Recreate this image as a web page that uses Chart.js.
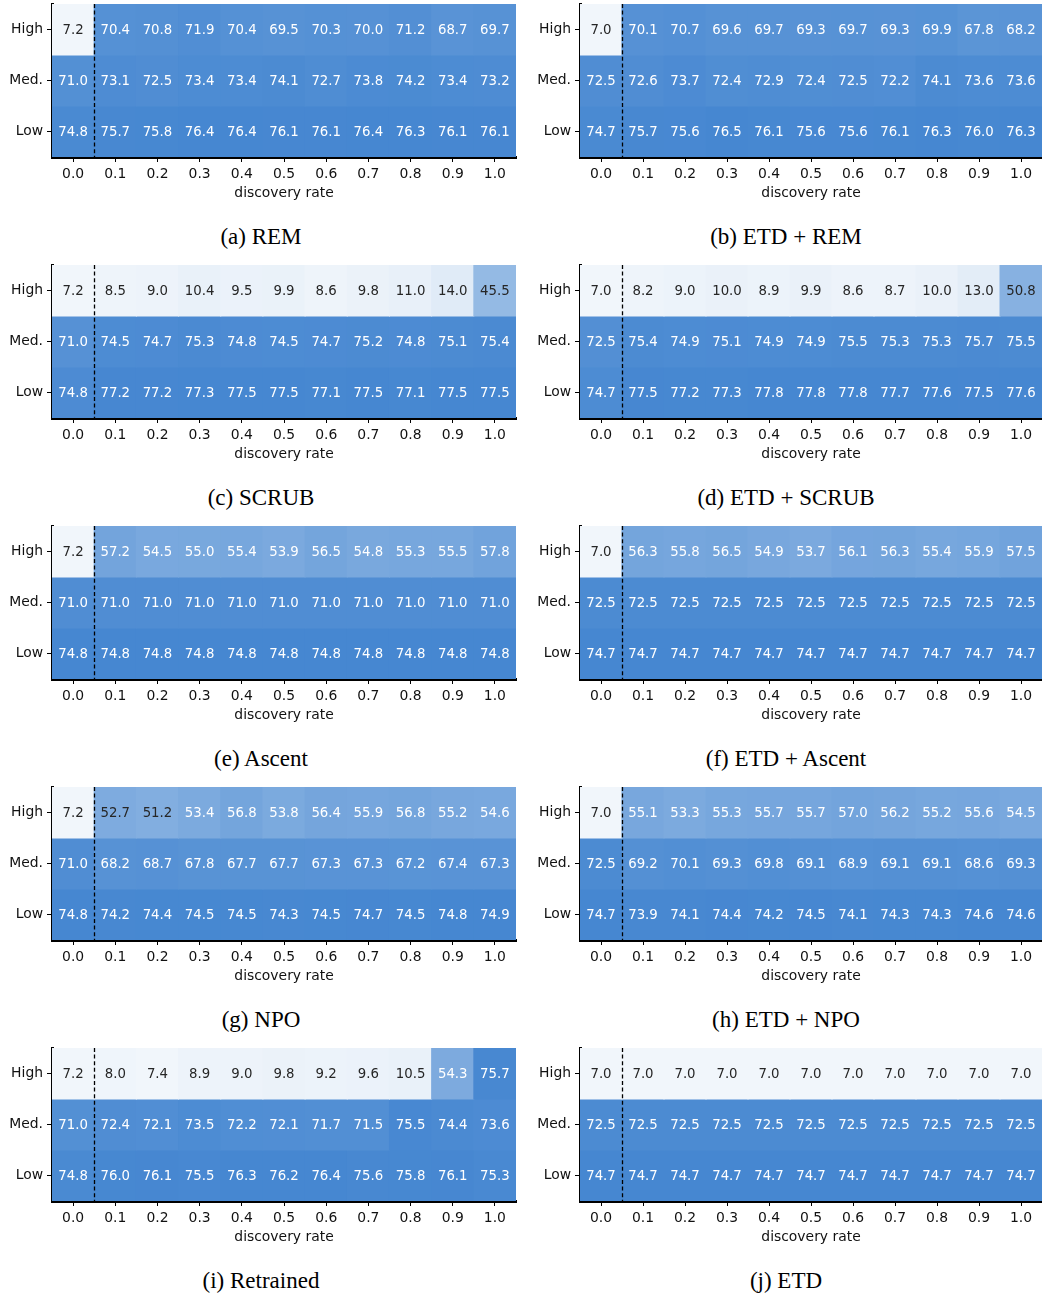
<!DOCTYPE html>
<html>
<head>
<meta charset="utf-8">
<script src="https://cdn.jsdelivr.net/npm/chart.js@4.4.1/dist/chart.umd.min.js"></script>
<style>
  html, body { margin: 0; padding: 0; background: #fff; }
  body { width: 1042px; height: 1296px; position: relative; overflow: hidden; }
  canvas.panel { position: absolute; }
  .cap {
    position: absolute; width: 400px; text-align: center; white-space: nowrap;
    font-family: "Liberation Serif", "Times New Roman", serif; font-size: 23px;
    line-height: 24px; color: #000;
  }
</style>
</head>
<body>
<script>
// Discovery-rate columns and forget-set rows
const rates = ['0.0', '0.1', '0.2', '0.3', '0.4', '0.5', '0.6', '0.7', '0.8', '0.9', '1.0'];
const rowLabels = ['High', 'Med.', 'Low'];

// Accuracy per method: rows High / Med. / Low, columns follow `rates`
const rem = [
  [7.2, 70.4, 70.8, 71.9, 70.4, 69.5, 70.3, 70.0, 71.2, 68.7, 69.7],
  [71.0, 73.1, 72.5, 73.4, 73.4, 74.1, 72.7, 73.8, 74.2, 73.4, 73.2],
  [74.8, 75.7, 75.8, 76.4, 76.4, 76.1, 76.1, 76.4, 76.3, 76.1, 76.1]
];
const etdRem = [
  [7.0, 70.1, 70.7, 69.6, 69.7, 69.3, 69.7, 69.3, 69.9, 67.8, 68.2],
  [72.5, 72.6, 73.7, 72.4, 72.9, 72.4, 72.5, 72.2, 74.1, 73.6, 73.6],
  [74.7, 75.7, 75.6, 76.5, 76.1, 75.6, 75.6, 76.1, 76.3, 76.0, 76.3]
];
const scrub = [
  [7.2, 8.5, 9.0, 10.4, 9.5, 9.9, 8.6, 9.8, 11.0, 14.0, 45.5],
  [71.0, 74.5, 74.7, 75.3, 74.8, 74.5, 74.7, 75.2, 74.8, 75.1, 75.4],
  [74.8, 77.2, 77.2, 77.3, 77.5, 77.5, 77.1, 77.5, 77.1, 77.5, 77.5]
];
const etdScrub = [
  [7.0, 8.2, 9.0, 10.0, 8.9, 9.9, 8.6, 8.7, 10.0, 13.0, 50.8],
  [72.5, 75.4, 74.9, 75.1, 74.9, 74.9, 75.5, 75.3, 75.3, 75.7, 75.5],
  [74.7, 77.5, 77.2, 77.3, 77.8, 77.8, 77.8, 77.7, 77.6, 77.5, 77.6]
];
const ascent = [
  [7.2, 57.2, 54.5, 55.0, 55.4, 53.9, 56.5, 54.8, 55.3, 55.5, 57.8],
  [71.0, 71.0, 71.0, 71.0, 71.0, 71.0, 71.0, 71.0, 71.0, 71.0, 71.0],
  [74.8, 74.8, 74.8, 74.8, 74.8, 74.8, 74.8, 74.8, 74.8, 74.8, 74.8]
];
const etdAscent = [
  [7.0, 56.3, 55.8, 56.5, 54.9, 53.7, 56.1, 56.3, 55.4, 55.9, 57.5],
  [72.5, 72.5, 72.5, 72.5, 72.5, 72.5, 72.5, 72.5, 72.5, 72.5, 72.5],
  [74.7, 74.7, 74.7, 74.7, 74.7, 74.7, 74.7, 74.7, 74.7, 74.7, 74.7]
];
const npo = [
  [7.2, 52.7, 51.2, 53.4, 56.8, 53.8, 56.4, 55.9, 56.8, 55.2, 54.6],
  [71.0, 68.2, 68.7, 67.8, 67.7, 67.7, 67.3, 67.3, 67.2, 67.4, 67.3],
  [74.8, 74.2, 74.4, 74.5, 74.5, 74.3, 74.5, 74.7, 74.5, 74.8, 74.9]
];
const etdNpo = [
  [7.0, 55.1, 53.3, 55.3, 55.7, 55.7, 57.0, 56.2, 55.2, 55.6, 54.5],
  [72.5, 69.2, 70.1, 69.3, 69.8, 69.1, 68.9, 69.1, 69.1, 68.6, 69.3],
  [74.7, 73.9, 74.1, 74.4, 74.2, 74.5, 74.1, 74.3, 74.3, 74.6, 74.6]
];
const retrained = [
  [7.2, 8.0, 7.4, 8.9, 9.0, 9.8, 9.2, 9.6, 10.5, 54.3, 75.7],
  [71.0, 72.4, 72.1, 73.5, 72.2, 72.1, 71.7, 71.5, 75.5, 74.4, 73.6],
  [74.8, 76.0, 76.1, 75.5, 76.3, 76.2, 76.4, 75.6, 75.8, 76.1, 75.3]
];
const etd = [
  [7.0, 7.0, 7.0, 7.0, 7.0, 7.0, 7.0, 7.0, 7.0, 7.0, 7.0],
  [72.5, 72.5, 72.5, 72.5, 72.5, 72.5, 72.5, 72.5, 72.5, 72.5, 72.5],
  [74.7, 74.7, 74.7, 74.7, 74.7, 74.7, 74.7, 74.7, 74.7, 74.7, 74.7]
];

const panels = [
  { caption: '(a) REM', grid: rem },
  { caption: '(b) ETD + REM', grid: etdRem },
  { caption: '(c) SCRUB', grid: scrub },
  { caption: '(d) ETD + SCRUB', grid: etdScrub },
  { caption: '(e) Ascent', grid: ascent },
  { caption: '(f) ETD + Ascent', grid: etdAscent },
  { caption: '(g) NPO', grid: npo },
  { caption: '(h) ETD + NPO', grid: etdNpo },
  { caption: '(i) Retrained', grid: retrained },
  { caption: '(j) ETD', grid: etd }
];

// Light-to-blue ramp, normalised to each panel's own min..max
const LIGHT = [241, 246, 251];
const DARK = [70, 135, 209];
function rampT(v, lo, hi) { return hi > lo ? (v - lo) / (hi - lo) : 0; }
function rampColor(t) {
  const c = LIGHT.map((l, i) => Math.round(l + (DARK[i] - l) * t));
  return `rgb(${c[0]},${c[1]},${c[2]})`;
}
function textColor(t) { return t >= 0.676 ? '#ffffff' : '#262626'; }

const FONT = '"DejaVu Sans", Verdana, sans-serif';

// Cell annotations and the dashed separator after the 0.0 column
const annotate = {
  id: 'annotate',
  afterDatasetsDraw(chart) {
    const ctx = chart.ctx;
    ctx.save();
    ctx.font = `13.3px ${FONT}`;
    ctx.textAlign = 'center';
    ctx.textBaseline = 'middle';
    chart.data.datasets.forEach((ds, di) => {
      chart.getDatasetMeta(di).data.forEach((el, i) => {
        const v = ds.values[i];
        ctx.fillStyle = ds.textColors[i];
        ctx.fillText(v.toFixed(1), el.x, (el.y + el.base) / 2 + 1);
      });
    });
    const xs = chart.scales.x;
    const xm = (xs.getPixelForValue(0) + xs.getPixelForValue(1)) / 2;
    const a = chart.chartArea;
    ctx.strokeStyle = '#000';
    ctx.lineWidth = 1.3;
    ctx.setLineDash([4, 2.6]);
    ctx.beginPath();
    ctx.moveTo(Math.round(xm) + 0.5, a.top);
    ctx.lineTo(Math.round(xm) + 0.5, a.bottom);
    ctx.stroke();
    ctx.restore();
  }
};

const ROW_PITCH = 261;

panels.forEach((p, idx) => {
  const col = idx % 2;
  const row = Math.floor(idx / 2);
  const left = col === 0 ? 0 : 528;
  const width = col === 0 ? 520 : 514;
  const top = ROW_PITCH * row;

  const canvas = document.createElement('canvas');
  canvas.className = 'panel';
  canvas.width = width;
  canvas.height = 201;
  canvas.style.left = left + 'px';
  canvas.style.top = top + 'px';
  canvas.style.width = width + 'px';
  canvas.style.height = '201px';
  document.body.appendChild(canvas);

  const cap = document.createElement('div');
  cap.className = 'cap';
  cap.textContent = p.caption;
  cap.style.left = ((col === 0 ? 261 : 786) - 200) + 'px';
  cap.style.top = (top + 237 - 12) + 'px';
  document.body.appendChild(cap);

  const all = p.grid.flat();
  const lo = Math.min(...all), hi = Math.max(...all);

  const datasets = p.grid.map((vals, r) => ({
    label: rowLabels[r],
    data: vals.map(() => [r - 0.5, r + 0.5]),
    values: vals,
    backgroundColor: vals.map(v => rampColor(rampT(v, lo, hi))),
    textColors: vals.map(v => textColor(rampT(v, lo, hi))),
    borderWidth: 0,
    inflateAmount: 0.5,
    barPercentage: 1,
    categoryPercentage: 1,
    grouped: false
  }));

  new Chart(canvas, {
    type: 'bar',
    data: { labels: rates, datasets },
    options: {
      responsive: false,
      animation: false,
      devicePixelRatio: 1,
      layout: { padding: { top: 4, left: 0, right: col === 0 ? 4 : 0, bottom: 0 } },
      plugins: { legend: { display: false }, tooltip: { enabled: false } },
      scales: {
        x: {
          type: 'category',
          offset: true,
          z: 1,
          grid: { offset: false, drawOnChartArea: false, drawTicks: true, tickLength: 5, color: '#000', lineWidth: 1 },
          border: { display: true, color: '#000', width: 3 },
          ticks: { color: '#111', font: { family: FONT, size: 13.9 }, padding: 4, maxRotation: 0, autoSkip: false },
          title: { display: true, text: 'discovery rate', color: '#111', font: { family: FONT, size: 13.9 }, padding: { top: 0, bottom: -1 } },
          afterFit: s => { s.height = 44; s.paddingLeft = 0; s.paddingRight = 0; }
        },
        y: {
          type: 'linear',
          min: -0.5,
          max: 2.5,
          reverse: true,
          z: 1,
          grid: { drawOnChartArea: false, drawTicks: true, tickLength: 5, color: '#000', lineWidth: 1 },
          border: { display: true, color: '#000', width: 3 },
          afterBuildTicks: s => { s.ticks = [0, 1, 2].map(v => ({ value: v })); },
          ticks: { color: '#111', font: { family: FONT, size: 13.9 }, padding: 4, callback: v => rowLabels[v] },
          afterFit: s => { s.width = 52; s.paddingTop = 0; s.paddingBottom = 0; }
        }
      }
    },
    plugins: [annotate]
  });
});
</script>
</body>
</html>
